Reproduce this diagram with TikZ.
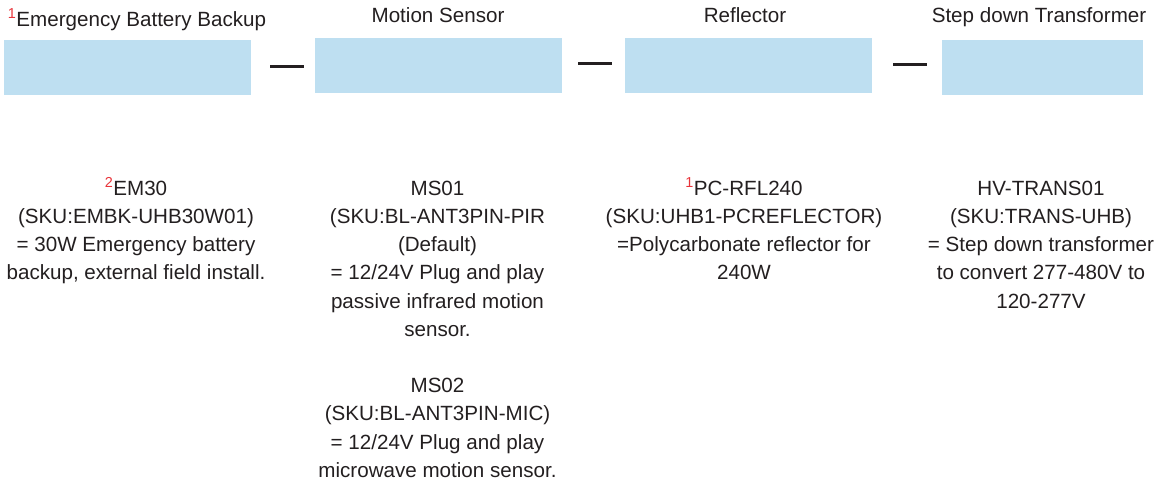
\documentclass[tikz,border=0pt]{standalone}
\usepackage{fontspec}
\setmainfont{Liberation Sans}
\definecolor{boxblue}{RGB}{190,223,241}
\definecolor{ink}{RGB}{35,31,32}
\definecolor{supred}{RGB}{232,52,58}
\newcommand\supr[1]{\textsuperscript{\textcolor{supred}{#1}}}
\newcommand\firstln{\rule{0pt}{20pt}}
\begin{document}
\begin{tikzpicture}[x=1pt,y=1pt,
  partbox/.style={fill=boxblue, draw=none, inner sep=0pt, anchor=north west},
  title/.style={text=ink, inner sep=0pt, anchor=base, font=\fontsize{20.6}{28.2}\selectfont},
  body/.style={text=ink, inner sep=0pt, anchor=north, align=center, font=\fontsize{20.6}{28.2}\selectfont},
  link/.style={draw=ink, line width=3pt}]
\useasboundingbox (0,0) rectangle (1156,-493);
% boxes
\node[partbox, minimum width=247, minimum height=55] (b1) at (4,-40) {};
\node[partbox, minimum width=247, minimum height=55] (b2) at (315,-38) {};
\node[partbox, minimum width=247, minimum height=55] (b3) at (625,-38) {};
\node[partbox, minimum width=201, minimum height=55] (b4) at (942,-40) {};
% titles
\node[title] (h1) at (137,-26) {\supr{1}Emergency Battery Backup};
\node[title] (h2) at (438,-22) {Motion Sensor};
\node[title] (h3) at (745,-22) {Reflector};
\node[title] (h4) at (1039,-22) {Step down Transformer};
% connectors
\draw[link] ([xshift=19pt,yshift=0.8pt]b1.east) -- ([xshift=-11pt,yshift=0.8pt]b1.east -| b2.west);
\draw[link] ([xshift=16pt,yshift=2pt]b2.east) -- ([xshift=-13pt,yshift=2pt]b2.east -| b3.west);
\draw[link] ([xshift=21pt,yshift=1.5pt]b3.east) -- ([xshift=-15pt,yshift=1.5pt]b3.east -| b4.west);
% descriptions
\node[body] (t1) at (136,-175) {\firstln\supr{2}EM30\\(SKU:EMBK-UHB30W01)\\= 30W Emergency battery\\backup, external field install.};
\node[body] (t2) at (437.5,-175) {\firstln MS01\\(SKU:BL-ANT3PIN-PIR\\(Default)\\= 12/24V Plug and play\\passive infrared motion\\sensor.};
\node[body] (t2b) at (437.5,-372.4) {\firstln MS02\\(SKU:BL-ANT3PIN-MIC)\\= 12/24V Plug and play\\microwave motion sensor.};
\node[body] (t3) at (744,-175) {\firstln\supr{1}PC-RFL240\\(SKU:UHB1-PCREFLECTOR)\\=Polycarbonate reflector for\\240W};
\node[body] (t4) at (1041,-175) {\firstln HV-TRANS01\\(SKU:TRANS-UHB)\\= Step down transformer\\to convert 277-480V to\\120-277V};
\end{tikzpicture}
\end{document}
